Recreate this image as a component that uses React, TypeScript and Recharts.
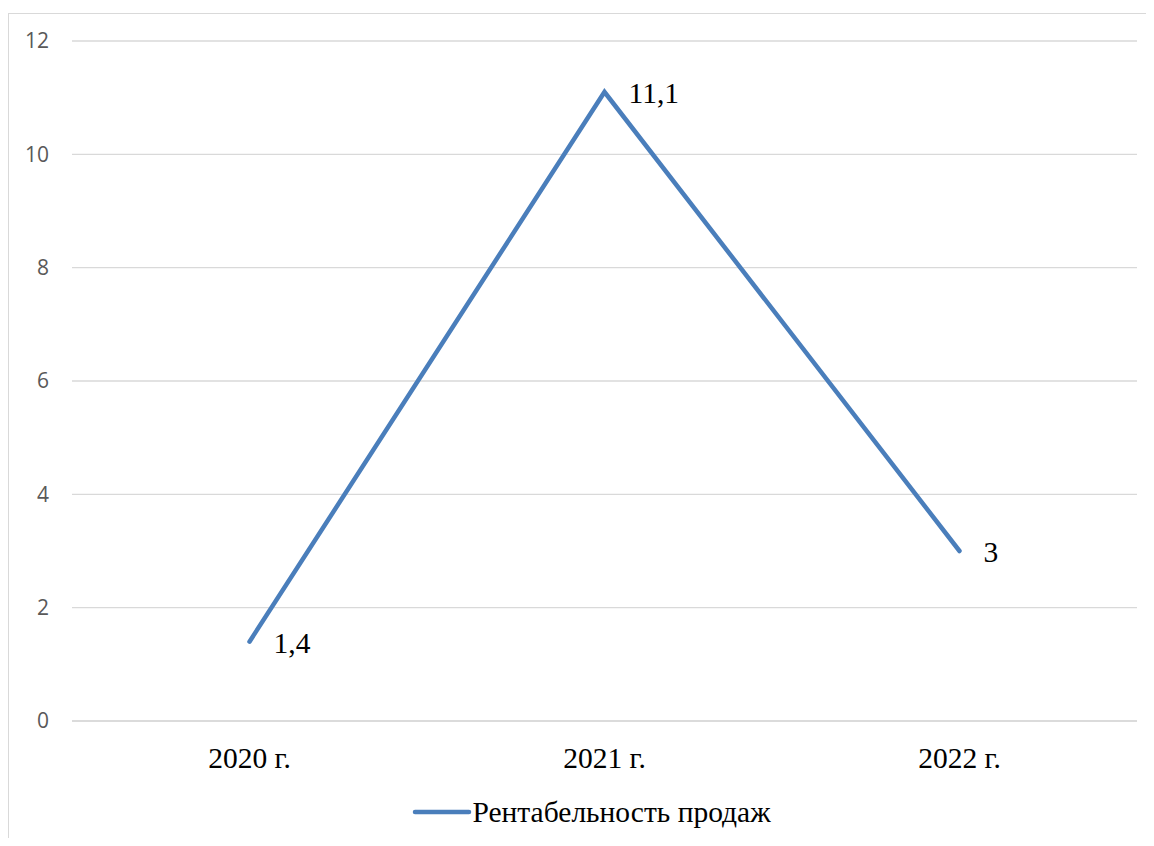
import { LineChart, Line, XAxis, YAxis, CartesianGrid, Legend, LabelList } from 'recharts'

const years = ['2020 г.', '2021 г.', '2022 г.']
const profitability = [1.4, 11.1, 3]
const yTicks = [0, 2, 4, 6, 8, 10, 12]
const seriesName = 'Рентабельность продаж'

const data = years.map((year, i) => ({ year, value: profitability[i] }))

const serif = '"Liberation Serif", "Times New Roman", serif'

function ValueLabel(props: any) {
  const { x, y, value } = props
  return (
    <text x={x + 24} y={y + 11} fontFamily={serif} fontSize={29.5} fill="#000">
      {String(value).replace('.', ',')}
    </text>
  )
}

function LegendContent() {
  return (
    <div style={{ height: 40, display: 'flex', alignItems: 'center', justifyContent: 'center', paddingLeft: 28 }}>
      <svg width={60} height={10} style={{ display: 'block' }}>
        <line x1={3} y1={5} x2={57} y2={5} stroke="#4A7EBB" strokeWidth={4.5} strokeLinecap="round" />
      </svg>
      <span style={{ fontFamily: serif, fontSize: 29.5, color: '#000', lineHeight: '40px' }}>{seriesName}</span>
    </div>
  )
}

export default function App() {
  return (
    <div style={{ marginTop: 5, width: 1137, height: 824, borderTop: '1px solid #d9d9d9', borderLeft: '1px solid #d9d9d9' }}>
      <LineChart width={1137} height={824} data={data} margin={{ top: 27, right: 9, bottom: 6, left: 0 }}>
        <CartesianGrid horizontal vertical={false} stroke="#d9d9d9" strokeWidth={1.3} />
        <XAxis
          dataKey="year"
          height={71}
          padding={{ left: 177.5, right: 177.5 }}
          axisLine={{ stroke: '#d9d9d9', strokeWidth: 1.3 }}
          tickLine={false}
          tickMargin={20}
          tick={{ fontFamily: serif, fontSize: 29.5, fill: '#000' }}
        />
        <YAxis
          width={63}
          domain={[0, 12]}
          ticks={yTicks}
          axisLine={false}
          tickLine={false}
          tickMargin={17}
          tick={{ fontFamily: '"Open Sans", sans-serif', fontSize: 21, fill: '#595959' }}
        />
        <Legend
          verticalAlign="bottom"
          height={40}
          content={<LegendContent />}
          wrapperStyle={{ left: 0, width: 1137 }}
        />
        <Line
          type="linear"
          dataKey="value"
          name={seriesName}
          stroke="#4A7EBB"
          strokeWidth={4.5}
          strokeLinecap="round"
          strokeLinejoin="miter"
          dot={false}
          isAnimationActive={false}
        >
          <LabelList dataKey="value" content={<ValueLabel />} />
        </Line>
      </LineChart>
    </div>
  )
}
